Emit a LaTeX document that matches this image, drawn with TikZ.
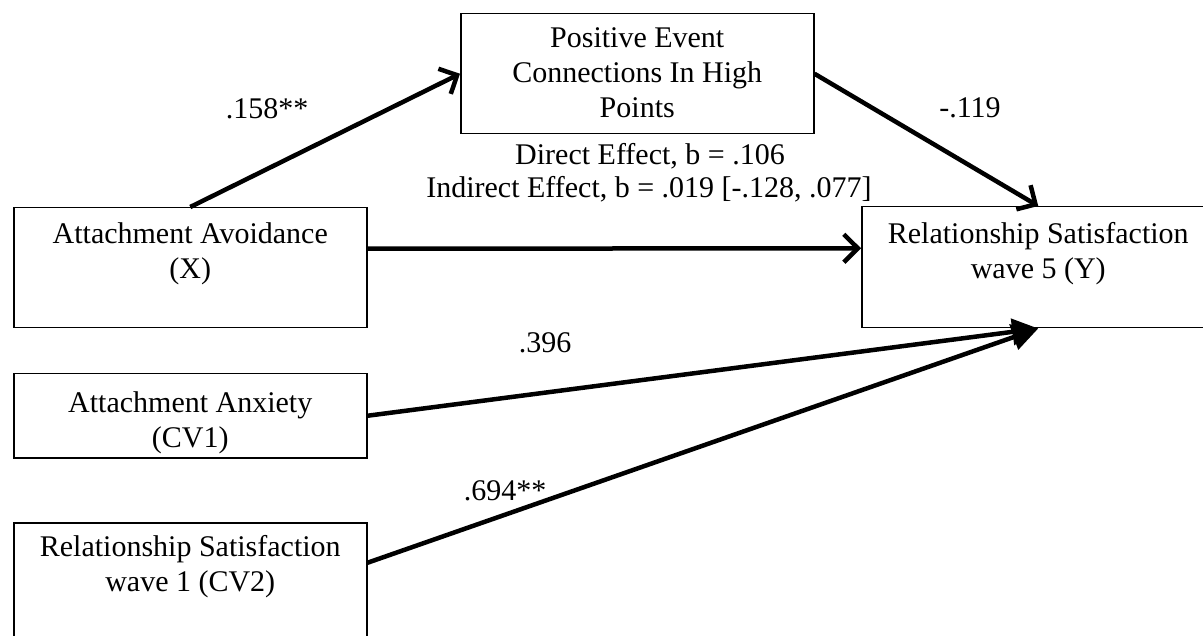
\documentclass[tikz,border=0pt]{standalone}
\usepackage{fontspec}
\setmainfont{Liberation Serif}
\usetikzlibrary{arrows.meta}

\begin{document}
\begin{tikzpicture}[x=1pt,y=-1pt,
		box/.style={draw, line width=1.5pt, minimum width=353pt, minimum height=120pt, anchor=north west, inner sep=0pt},
		boxtext/.style={anchor=north, align=center, inner sep=0pt},
		coef/.style={anchor=base, inner sep=0pt},
		effect/.style={line width=4.5pt, -{Straight Barb[length=14pt,width=28pt]}},
		covar/.style={line width=4.5pt, -{Triangle[length=26pt,width=26pt]}}]
	\fontsize{30}{35}\selectfont
	\useasboundingbox (0,0) rectangle (1203,636);
	% boxes
	\node[box] (pos) at (460,13) {};
	\node[box] (avoid) at (13,207) {};
	\node[box, minimum height=84pt] (anx) at (13,373) {};
	\node[box] (sat1) at (13,522) {};
	\node[box, minimum height=121pt] (sat5) at (861,206) {};
	\node[boxtext] (postext) at ([yshift=-14pt]pos.north) {Positive Event\\Connections In High\\Points};
	\node[boxtext] (avoidtext) at ([yshift=-15pt]avoid.north) {Attachment Avoidance\\(X)};
	\node[boxtext] (anxtext) at ([yshift=-18pt]anx.north) {Attachment Anxiety\\(CV1)};
	\node[boxtext] (sat1text) at ([yshift=-13pt]sat1.north) {Relationship Satisfaction\\wave 1 (CV2)};
	\node[boxtext] (sat5text) at ([yshift=-16pt]sat5.north) {Relationship Satisfaction\\wave 5 (Y)};
	% paths
	\draw[effect] (avoid.north) -- (pos.west);
	\draw[effect] (pos.east) -- (sat5.north);
	\draw[effect] ([yshift=19pt]avoid.east) -- ([yshift=19pt]sat5.west);
	\draw[covar] (anx.east) -- (sat5.south);
	\draw[covar] ([yshift=20pt]sat1.east) -- (sat5.south);
	% coefficients
	\node[coef] (a) at (267,119) {.158**};
	\node[coef] (b) at (970,118) {-.119};
	\node[coef] (direct) at (650,165) {Direct Effect, b = .106};
	\node[coef] (indirect) at (649,198) {Indirect Effect, b = .019 [-.128, .077]};
	\node[coef] (cv1) at (545,353) {.396};
	\node[coef] (cv2) at (505,500) {.694**};
\end{tikzpicture}
\end{document}
